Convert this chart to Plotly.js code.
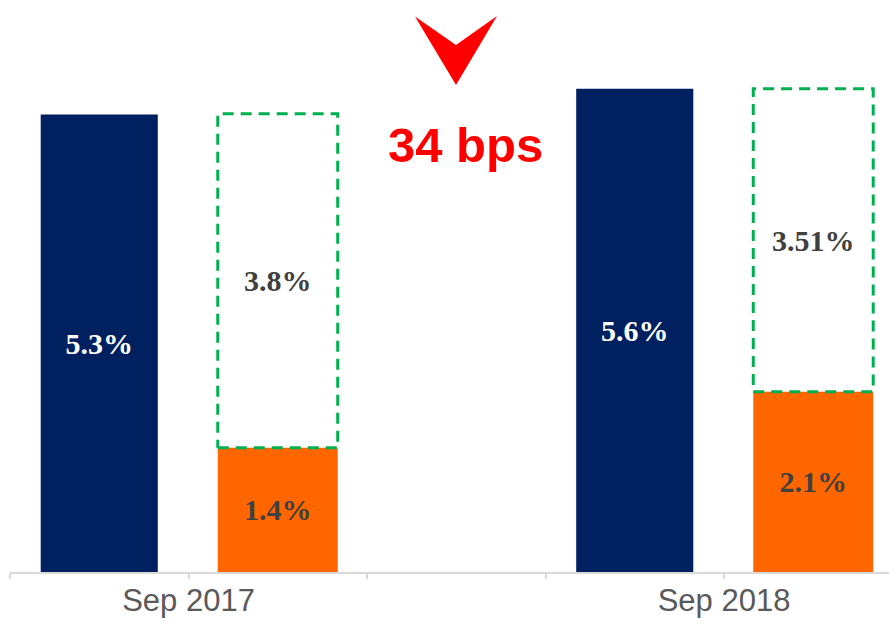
<!DOCTYPE html>
<html>
<head>
<meta charset="utf-8">
<script src="https://cdn.plot.ly/plotly-3.0.1.min.js"></script>
<style>html,body{margin:0;padding:0;background:#fff;}#chart{width:889px;height:634px;}</style>
</head>
<body>
<div id="chart"></div>
<script>
// ---- data ----
var periods = ['Sep 2017', 'Sep 2018'];
var navyValues = [5.3, 5.6];
var navyLabels = ['5.3%', '5.6%'];
var orangeValues = [1.44, 2.09];
var orangeLabels = ['1.4%', '2.1%'];
var boxValues = [3.87, 3.51];
var boxLabels = ['3.8%', '3.51%'];
var changeLabel = '34 bps';

// ---- layout helpers ----
var W = 889, H = 634;
var M = {l: 10, r: 0, t: 0, b: 62};
var pw = W - M.l - M.r, ph = H - M.t - M.b;
function px(x){ return (x - M.l) / pw; }
function py(y){ return (H - M.b - y) / ph; }

var navyX = periods.map(function(_, g){ return 3 * g; });
var orangeX = periods.map(function(_, g){ return 3 * g + 1; });
var navyW = 0.656, orangeW = 0.672;

var serifFont = {family: 'Liberation Serif, Times New Roman, serif', size: 30, weight: 'bold'};

var traces = [];
traces.push({
  type: 'bar', x: navyX, y: navyValues, width: navyW,
  marker: {color: '#002060'},
  text: navyLabels, textposition: 'inside', insidetextanchor: 'middle', textangle: 0,
  textfont: Object.assign({}, serifFont, {color: '#ffffff'}),
  hoverinfo: 'skip', showlegend: false
});
traces.push({
  type: 'bar', x: orangeX, y: orangeValues, width: orangeW,
  marker: {color: '#FF6600'},
  text: orangeLabels, textposition: 'inside', insidetextanchor: 'middle', textangle: 0,
  textfont: Object.assign({}, serifFont, {color: '#404040'}),
  hoverinfo: 'skip', showlegend: false
});
traces.push({
  type: 'bar', x: orangeX, y: boxValues, base: orangeValues, width: orangeW,
  marker: {color: 'rgba(0,0,0,0)', line: {width: 0}},
  text: boxLabels, textposition: 'inside', insidetextanchor: 'middle', textangle: 0,
  textfont: Object.assign({}, serifFont, {color: '#404040'}),
  hoverinfo: 'skip', showlegend: false
});
// dashed outlines of the box segments
orangeX.forEach(function(c, i){
  var b = orangeValues[i], t = orangeValues[i] + boxValues[i];
  var x0 = c - orangeW / 2, x1 = c + orangeW / 2;
  traces.push({
    type: 'scatter', mode: 'lines',
    x: [x0, x1, x1, x0, x0], y: [b, b, t, t, b],
    line: {color: '#00B050', width: 3, dash: '11px,7px'},
    hoverinfo: 'skip', showlegend: false
  });
});

var tickvals = [], ticktext = [];
for (var k = -0.5; k <= 4.5; k += 1) {
  tickvals.push(k);
  var lbl = '';
  periods.forEach(function(p, g){ if (Math.abs(k - (3 * g + 0.5)) < 1e-6) lbl = p; });
  ticktext.push(lbl);
}

var layout = {
  width: W, height: H,
  margin: M,
  paper_bgcolor: '#ffffff', plot_bgcolor: '#ffffff',
  barmode: 'overlay',
  xaxis: {
    range: [-0.5, -0.5 + pw / 178.5],
    tickmode: 'array', tickvals: tickvals, ticktext: ticktext,
    ticks: 'outside', ticklen: 5, tickwidth: 2, tickcolor: '#d9d9d9',
    ticklabelstandoff: -5,
    showline: true, linecolor: '#d9d9d9', linewidth: 2,
    showgrid: false, zeroline: false,
    tickfont: {family: 'Liberation Sans, Arial, sans-serif', size: 31, color: '#595959'},
    fixedrange: true
  },
  yaxis: {
    range: [0, ph / 86.3],
    visible: false, showgrid: false, zeroline: false, fixedrange: true
  },
  shapes: [{
    type: 'path', xref: 'paper', yref: 'paper',
    path: 'M ' + px(415) + ' ' + py(16.5) +
          ' L ' + px(456) + ' ' + py(45) +
          ' L ' + px(497) + ' ' + py(16) +
          ' L ' + px(456) + ' ' + py(85) + ' Z',
    fillcolor: '#FF0000', line: {width: 0}
  }],
  annotations: [{
    xref: 'paper', yref: 'paper', x: px(465), y: py(145),
    xanchor: 'center', yanchor: 'middle', showarrow: false,
    text: changeLabel,
    font: {family: 'Liberation Sans, Arial, sans-serif', size: 49, weight: 'bold', color: '#FF0000'}
  }]
};

Plotly.newPlot('chart', traces, layout, {staticPlot: true, displayModeBar: false});
</script>
</body>
</html>
